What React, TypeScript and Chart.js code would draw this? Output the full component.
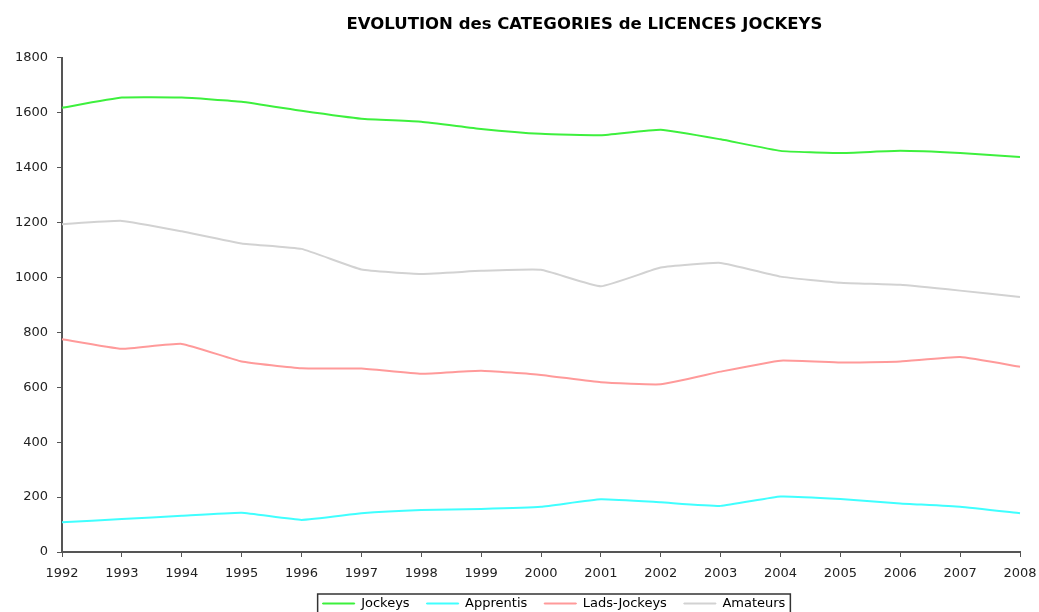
import React, { useEffect, useRef } from "react";
import { Chart, registerables } from "chart.js";

Chart.register(...registerables);

const years = ["1992","1993","1994","1995","1996","1997","1998","1999","2000","2001","2002","2003","2004","2005","2006","2007","2008"];
const jockeys = [1618,1655,1655,1640,1607,1578,1567,1541,1523,1518,1538,1503,1461,1453,1461,1453,1439];
const apprentis = [108,120,132,143,117,141,153,157,165,192,181,168,202,193,177,165,141];
const ladsJockeys = [775,740,758,694,669,668,649,660,645,618,611,657,697,690,694,710,675];
const amateurs = [1194,1206,1168,1124,1104,1029,1013,1024,1028,968,1036,1053,1003,981,973,952,929];

const FONT = "'DejaVu Sans', 'Liberation Sans', Arial, sans-serif";

const tweaks = {
  id: "tweaks",
  afterLayout(chart: any) {
    const t = chart.titleBlock;
    if (t) { t.left = 130; t.right = 1039; }
    const lg = chart.legend;
    if (lg) { lg.left += 13; lg.right += 13; }
  },
  afterDraw(chart: any) {
    const lg = chart.legend;
    if (!lg || !lg.legendHitBoxes || !lg.legendHitBoxes.length) return;
    const boxes = lg.legendHitBoxes;
    let x1 = Infinity, y1 = Infinity, x2 = -Infinity, y2 = -Infinity;
    for (const b of boxes) {
      x1 = Math.min(x1, b.left); y1 = Math.min(y1, b.top);
      x2 = Math.max(x2, b.left + b.width); y2 = Math.max(y2, b.top + b.height);
    }
    const ctx = chart.ctx;
    ctx.save();
    ctx.strokeStyle = "#333";
    ctx.lineWidth = 1.5;
    ctx.strokeRect(x1 - 5, y1 - 3, x2 - x1 + 10, y2 - y1 + 16);
    ctx.restore();
  },
};

export default function App() {
  const ref = useRef<HTMLCanvasElement | null>(null);
  useEffect(() => {
    if (!ref.current) return;
    const mk = (label: string, data: number[], color: string) => ({
      label, data, borderColor: color, backgroundColor: color,
      borderWidth: 2, pointRadius: 0, tension: 0.12, fill: false,
    });
    const chart = new Chart(ref.current, {
      type: "line",
      data: {
        labels: years,
        datasets: [
          mk("Jockeys", jockeys, "#3df03d"),
          mk("Apprentis", apprentis, "#40ffff"),
          mk("Lads-Jockeys", ladsJockeys, "#ff9a9a"),
          mk("Amateurs", amateurs, "#d2d2d2"),
        ],
      },
      options: {
        animation: false,
        responsive: true,
        maintainAspectRatio: false,
        layout: { padding: { left: 0, right: 19, top: 0, bottom: -8 } },
        plugins: {
          title: {
            display: true,
            text: "EVOLUTION des CATEGORIES de LICENCES JOCKEYS",
            color: "#000",
            font: { family: FONT, size: 16.5, weight: "bold" },
            padding: { top: 15, bottom: 23 },
          },
          legend: {
            display: true,
            position: "bottom",
            fullSize: false,
            labels: {
              boxWidth: 32,
              boxHeight: 1,
              color: "#000",
              font: { family: FONT, size: 13 },
              padding: 17,
              generateLabels: (c: any) =>
                Chart.defaults.plugins.legend.labels.generateLabels(c).map((it: any) => ({ ...it, lineWidth: 1 })),
            },
          },
          tooltip: { enabled: false },
        },
        scales: {
          x: {
            offset: false,
            grid: { display: true, drawOnChartArea: false, drawTicks: true, tickLength: 5, color: "#555" },
            border: { display: true, color: "#555", width: 2 },
            ticks: { color: "#222", font: { family: FONT, size: 13 }, padding: 9, maxRotation: 0, autoSkip: false },
            afterFit: (s: any) => { s.height = 28; s.paddingRight = 10; s.paddingLeft = 10; },
          },
          y: {
            min: 0,
            max: 1800,
            grid: { display: true, drawOnChartArea: false, drawTicks: true, tickLength: 5, color: "#555" },
            border: { display: true, color: "#555", width: 2 },
            ticks: { stepSize: 200, color: "#222", font: { family: FONT, size: 13 }, padding: 9, callback: (v: any) => String(v) },
            afterFit: (s: any) => { s.width = 62; },
          },
        },
      },
      plugins: [tweaks],
    });
    return () => chart.destroy();
  }, []);
  return (
    <div style={{ position: "fixed", left: 0, top: 0, width: 1039, height: 612, background: "#fff" }}>
      <canvas ref={ref} />
    </div>
  );
}
